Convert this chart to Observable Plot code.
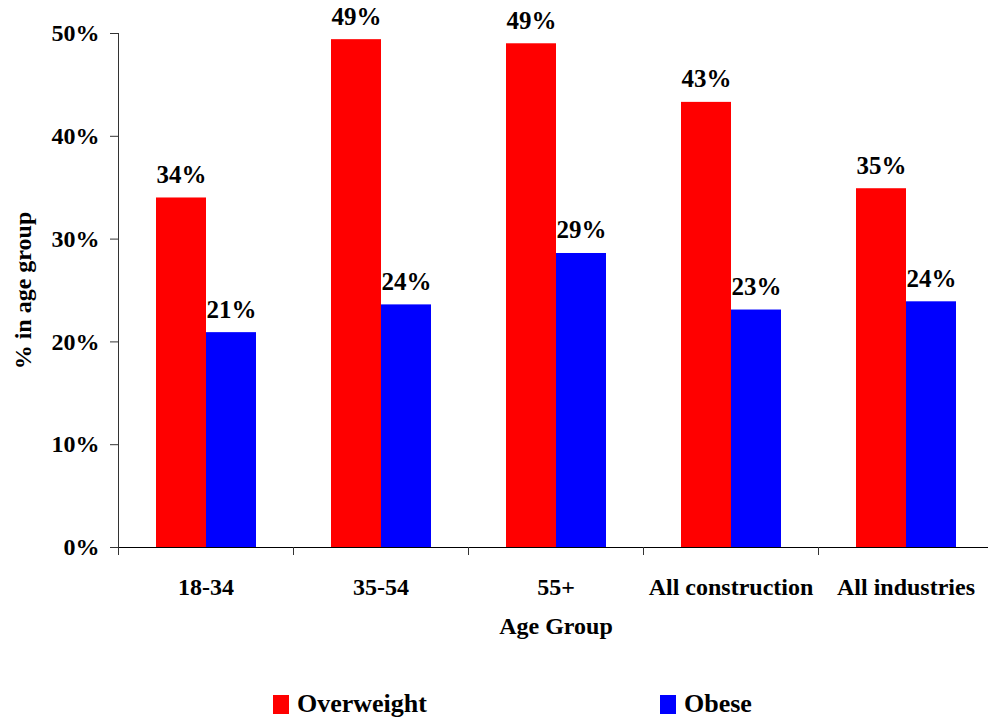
<!DOCTYPE html>
<html><head><meta charset="utf-8">
<script src="https://cdn.jsdelivr.net/npm/d3@7"></script>
<script src="https://cdn.jsdelivr.net/npm/@observablehq/plot@0.6"></script>
<style>
body{margin:0;background:#fff;font-family:"Liberation Serif","Times New Roman",serif;}
#wrap{position:relative;width:988px;height:721px;overflow:hidden;}
#legend{position:absolute;left:0;top:660px;width:988px;height:61px;}
.item{position:absolute;top:29px;display:flex;align-items:center;font-weight:bold;font-size:26px;color:#000;}
.sw{width:16px;height:19px;margin-right:8px;}
</style></head><body>
<div id="wrap"><div id="chart"></div><div id="legend"></div></div>
<script>
const groups = ["18-34", "35-54", "55+", "All construction", "All industries"];
const series = ["Overweight", "Obese"];
const overweight = [0.340, 0.494, 0.490, 0.433, 0.349];
const obese = [0.209, 0.236, 0.286, 0.231, 0.239];
const colors = ["#ff0000", "#0000ff"];
const yTicks = [0, 0.1, 0.2, 0.3, 0.4, 0.5];
const legendLeft = [273, 660];

const data = groups.flatMap((g, i) => [
  {group: g, series: series[0], value: overweight[i]},
  {group: g, series: series[1], value: obese[i]}
]);
const pct = d3.format(".0%");

const chart = Plot.plot({
  width: 988, height: 660,
  marginLeft: 118, marginRight: -5, marginTop: 33, marginBottom: 113,
  style: {fontFamily: "'Liberation Serif','Times New Roman',serif", fontSize: "24px", fontWeight: "bold", color: "#000", background: "#fff", overflow: "visible"},
  fx: {domain: groups, padding: 0},
  x: {domain: series, paddingInner: 0, paddingOuter: 0.733, axis: null},
  y: {domain: [0, 0.5]},
  color: {domain: series, range: colors},
  marks: [
    Plot.barY(data, {fx: "group", x: "series", y: "value", fill: "series"}),
    Plot.ruleY([0], {stroke: "#000", strokeWidth: 1.2}),
    Plot.frame({anchor: "left", facetAnchor: "left", stroke: "#333"}),
    Plot.text(data, {fx: "group", x: "series", y: "value", text: d => pct(d.value), dy: -15, lineAnchor: "bottom", fontSize: 25}),
    Plot.axisY(yTicks, {tickFormat: pct, tickSize: 8, tickPadding: 11, stroke: "#333", label: "% in age group", labelArrow: "none", labelAnchor: "center", labelOffset: 105}),
    Plot.axisFx({anchor: "bottom", tickSize: 8, tickFormat: () => "", dx: -87.5, stroke: "#333", label: null}),
    Plot.axisFx({anchor: "bottom", tickSize: 0, tickPadding: 30, label: "Age Group", labelArrow: "none", labelAnchor: "center", labelOffset: 86})
  ]
});
chart.style.maxWidth = "none";
document.getElementById("chart").appendChild(chart);

const legend = document.getElementById("legend");
series.forEach((s, i) => {
  const item = document.createElement("div");
  item.className = "item";
  item.style.left = legendLeft[i] + "px";
  const sw = document.createElement("span");
  sw.className = "sw";
  sw.style.background = colors[i];
  item.appendChild(sw);
  item.appendChild(document.createTextNode(s));
  legend.appendChild(item);
});
</script>
</body></html>
